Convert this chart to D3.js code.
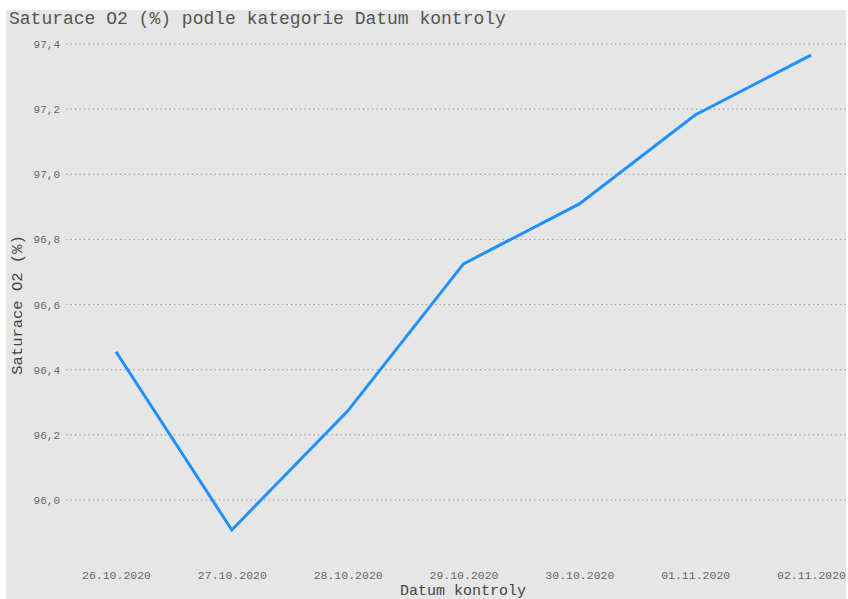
<!DOCTYPE html>
<html>
<head>
<meta charset="utf-8">
<script src="https://cdn.jsdelivr.net/npm/d3@7"></script>
<style>
body { margin: 0; background: #fff; }
text { font-family: "Liberation Mono", "Courier New", monospace; }
</style>
</head>
<body>
<script>
// data
var dates = ["26.10.2020", "27.10.2020", "28.10.2020", "29.10.2020", "30.10.2020", "01.11.2020", "02.11.2020"];
var saturace = [96.455, 95.908, 96.273, 96.725, 96.909, 97.182, 97.366];
var yTicks = [96.0, 96.2, 96.4, 96.6, 96.8, 97.0, 97.2, 97.4];

var W = 848, H = 599;

var svg = d3.select("body").append("svg")
    .attr("width", W)
    .attr("height", H);

// grey panel
svg.append("rect")
    .attr("x", 6).attr("y", 10)
    .attr("width", 840).attr("height", 589)
    .attr("fill", "#e6e6e6");

// scales
var x = d3.scalePoint().domain(dates).range([116, 811]);
var y = d3.scaleLinear().domain([96.0, 97.4]).range([500, 44]);

// gridlines
svg.append("g")
    .selectAll("line")
    .data(yTicks)
    .enter().append("line")
    .attr("x1", 66).attr("x2", 846)
    .attr("y1", function(d) { return y(d); })
    .attr("y2", function(d) { return y(d); })
    .attr("stroke", "#8a8a8a")
    .attr("stroke-width", 1)
    .attr("stroke-dasharray", "1.2,3.3");

// y axis labels
var fmt = function(d) { return d3.format(".1f")(d).replace(".", ","); };
var yAxis = svg.append("g")
    .attr("transform", "translate(60,0)")
    .call(d3.axisLeft(y).tickValues(yTicks).tickSize(0).tickPadding(0).tickFormat(fmt));
yAxis.select(".domain").remove();
yAxis.selectAll("text")
    .style("font-family", "'Liberation Mono', monospace")
    .style("font-size", "11px")
    .attr("fill", "#666");

// x axis labels
var xAxis = svg.append("g")
    .attr("transform", "translate(0,571)")
    .call(d3.axisBottom(x).tickSize(0).tickPadding(0));
xAxis.select(".domain").remove();
xAxis.selectAll("text")
    .style("font-family", "'Liberation Mono', monospace")
    .style("font-size", "11.5px")
    .attr("fill", "#666");

// line
var valueline = d3.line()
    .x(function(d, i) { return x(dates[i]); })
    .y(function(d) { return y(d); });

svg.append("path")
    .datum(saturace)
    .attr("d", valueline)
    .attr("fill", "none")
    .attr("stroke", "#1e90ff")
    .attr("stroke-width", 3);

// title
svg.append("text")
    .attr("x", 9)
    .attr("y", 24)
    .style("font-size", "18px")
    .attr("fill", "#555")
    .text("Saturace O2 (%) podle kategorie Datum kontroly");

// x axis title
svg.append("text")
    .attr("x", 463)
    .attr("y", 595)
    .attr("text-anchor", "middle")
    .style("font-size", "15px")
    .attr("fill", "#444")
    .text("Datum kontroly");

// y axis title
svg.append("text")
    .attr("transform", "translate(22,305) rotate(-90)")
    .attr("text-anchor", "middle")
    .style("font-size", "15.5px")
    .attr("fill", "#444")
    .text("Saturace O2 (%)");
</script>
</body>
</html>
